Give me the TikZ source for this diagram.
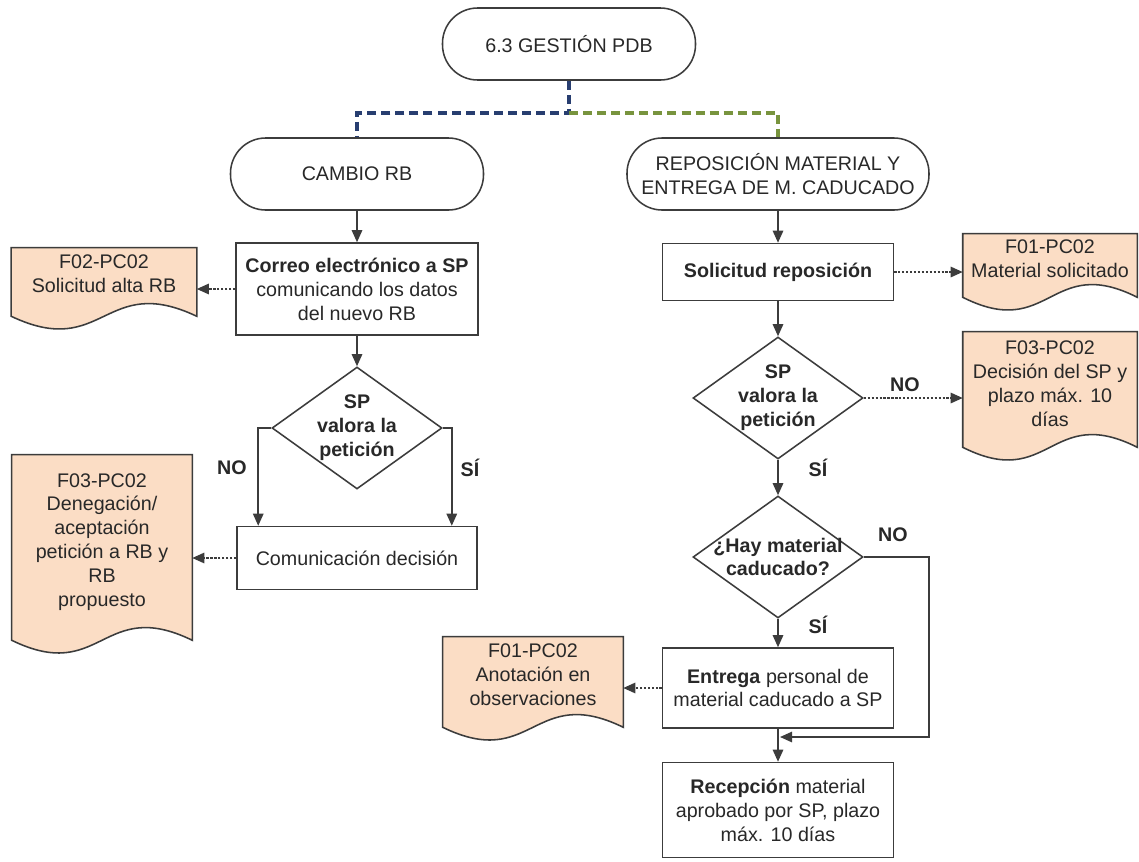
\documentclass[tikz,border=0pt]{standalone}
\usepackage{fontspec}
\setmainfont{Liberation Sans}
\usetikzlibrary{shapes.geometric,arrows.meta,calc,backgrounds}
\newcommand{\pxu}{0.025cm}
\newcommand{\flowfont}{\fontsize{14}{17}\selectfont}
\definecolor{linegray}{RGB}{60,60,60}
\definecolor{textgray}{RGB}{40,40,40}
\definecolor{docpeach}{RGB}{251,221,197}
\definecolor{flowblue}{RGB}{40,62,112}
\definecolor{flowgreen}{RGB}{120,148,62}
\tikzset{
  terminal/.style={draw=linegray,line width=1.1pt,rectangle,rounded corners=0.88cm,minimum height=1.8cm,align=center,text=textgray},
  procbox/.style={draw=linegray,line width=1.1pt,rectangle,align=center,text=textgray,inner sep=0pt},
  decision/.style={draw=linegray,line width=1.1pt,diamond,inner sep=0pt,minimum width=170*\pxu,minimum height=122*\pxu},
  doctext/.style={rectangle,align=center,text=textgray,inner sep=0pt},
  docline/.style={draw=linegray,line width=1.1pt,fill=docpeach},
  answer/.style={font=\flowfont\bfseries,text=textgray,align=center,inner sep=0pt},
  flow/.style={linegray,line width=1.1pt,-{Triangle[length=3mm,width=2.6mm]}},
  reffile/.style={linegray,line width=1.1pt,dash pattern=on 1.6pt off 1.2pt,-{Triangle[length=3mm,width=2.6mm]}},
  branch/.style={line width=2.4pt,dash pattern=on 6.4pt off 3.6pt}
}
\newcommand{\docoutline}[2]{%
  \begin{scope}[on background layer]
    \path[docline] (#1.north west) -- (#1.north east) -- ($(#1.south east)+(0,#2)$)
      .. controls ($(#1.south)+(0,#2-44)$) and ($(#1.south)+(0,#2+44)$) .. ($(#1.south west)+(0,#2)$) -- cycle;
  \end{scope}}
\begin{document}
\begin{tikzpicture}[x=\pxu,y=-\pxu,font=\flowfont]
\begin{scope}[on background layer]
\fill[white] (0,0) rectangle (1139,862);
\end{scope}
\useasboundingbox (0,0) rectangle (1139,862);

\node[terminal,minimum width=253*\pxu] (gestion) at (569,44) {6.3 GESTIÓN PDB};
\node[terminal,minimum width=253*\pxu] (cambio) at (357,174) {CAMBIO RB};
\node[terminal,minimum width=302*\pxu] (repo) at (778,174) {REPOSICIÓN MATERIAL Y\\ENTREGA DE M. CADUCADO};
\coordinate (split) at (569,113);
\draw[branch,flowblue] (gestion) -- (split) -| (cambio);
\draw[branch,flowgreen] (split) -| (repo);

\node[procbox,minimum width=242*\pxu,minimum height=92*\pxu] (correo) at (357,289) {\textbf{Correo electrónico a SP}\\comunicando los datos\\del nuevo RB};
\node[decision,label={[answer]center:SP\\valora la\\petición}] (valora) at (357,428) {};
\node[procbox,minimum width=240*\pxu,minimum height=63*\pxu] (comunica) at (357,558) {Comunicación decisión};

\node[doctext,minimum width=185*\pxu,minimum height=52*\pxu] (altarb) at (104,274) {F02-PC02\\Solicitud alta RB};
\docoutline{altarb}{16}
\node[doctext,minimum width=180*\pxu,minimum height=174*\pxu] (denega) at (102,542) {F03-PC02\\Denegación/\\aceptación\\petición a RB y\\RB\\propuesto};
\docoutline{denega}{11}

\draw[flow] (cambio) -- (correo);
\draw[flow] (correo) -- (valora);
\draw[flow] (valora.west) -- ++(-13,0) coordinate (nobranch) -- (nobranch |- comunica.north);
\draw[flow] (valora.east) -- ++(9,0) coordinate (sibranch) -- (sibranch |- comunica.north);
\node[answer] (noizq) at (232,468) {NO};
\node[answer] (siizq) at (470,468) {SÍ};
\draw[reffile] (correo.west) -- (correo.west -| altarb.east);
\draw[reffile] (comunica.west) -- (comunica.west -| denega.east);

\node[procbox,minimum width=231*\pxu,minimum height=57*\pxu] (solicitud) at (778,272) {\textbf{Solicitud reposición}};
\node[decision,label={[answer]center:SP\\valora la\\petición}] (valorasp) at (778,398) {};
\node[decision,label={[answer]center:¿Hay material\\caducado?}] (caducado) at (778,557) {};
\node[procbox,minimum width=231*\pxu,minimum height=80*\pxu] (entrega) at (778,688) {\textbf{Entrega} personal de\\material caducado a SP};
\node[procbox,minimum width=231*\pxu,minimum height=95*\pxu] (recepcion) at (778,810) {\textbf{Recepción} material\\aprobado por SP, plazo\\máx. 10 días};

\node[doctext,minimum width=174*\pxu,minimum height=50*\pxu] (matsol) at (1050,259) {F01-PC02\\Material solicitado};
\docoutline{matsol}{13}
\node[doctext,minimum width=174*\pxu,minimum height=104*\pxu] (plazo) at (1050,384) {F03-PC02\\Decisión del SP y\\plazo máx. 10\\días};
\docoutline{plazo}{11}
\node[doctext,minimum width=180*\pxu,minimum height=76*\pxu] (anota) at (533,675) {F01-PC02\\Anotación en\\observaciones};
\docoutline{anota}{14}

\draw[flow] (repo) -- (solicitud);
\draw[flow] (solicitud) -- (valorasp);
\draw[flow] (valorasp) -- (caducado);
\draw[flow] (caducado) -- (entrega);
\draw[flow] (entrega) -- (recepcion);
\coordinate (merge) at (780,737);
\draw[flow] (caducado.east) -- ++(65,0) |- (merge);
\draw[reffile] (solicitud.east) -- (solicitud.east -| matsol.west);
\draw[reffile] (valorasp.east) -- (valorasp.east -| plazo.west);
\draw[reffile] (entrega.west) -- (entrega.west -| anota.east);
\node[answer] (nosp) at (905,385) {NO};
\node[answer] (sisp) at (818,468) {SÍ};
\node[answer] (nocad) at (893,535) {NO};
\node[answer] (sicad) at (818,625) {SÍ};
\end{tikzpicture}
\end{document}
